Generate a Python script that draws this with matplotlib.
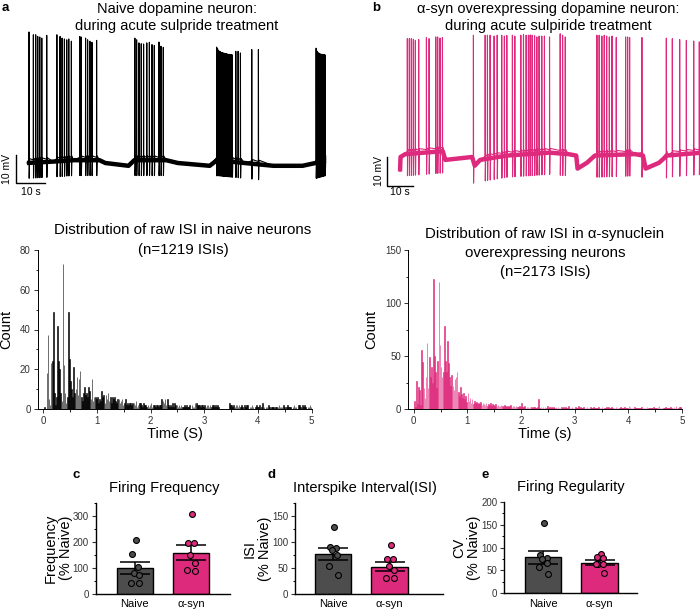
import matplotlib
matplotlib.use('Agg')
import matplotlib.pyplot as plt
import numpy as np
from matplotlib.ticker import MultipleLocator

plt.rcParams['font.family'] = ['Liberation Sans', 'DejaVu Sans']

PINK = '#DE2A7D'
GREY = '#4D4D4D'

# ---- voltage traces (spike times in s, peak in mV rel. to baseline) ----
naive_spike_t = [0.7, 2.2, 3.0, 3.7, 4.4, 5.1, 6.8, 10.3, 11.4, 12.1, 12.9, 13.7, 14.4, 15.3,
                 18.2, 18.7, 20.2, 20.9, 21.7, 22.4, 24.0,
                 37.2, 37.8, 38.6, 39.4, 40.2, 41.3, 42.2, 43.1, 43.9, 45.5, 46.2, 47.0,
                 65.4, 65.7, 66.0, 66.25, 66.55, 66.8, 67.1, 67.4, 67.7, 68.0, 68.3, 68.55,
                 68.85, 69.2, 69.5, 69.8, 70.1, 70.45, 70.8,
                 72.0, 72.8, 73.6, 77.5, 79.8,
                 99.7, 99.95, 100.2, 100.5, 100.75, 101.0, 101.3, 101.6, 101.9, 102.2, 102.5, 102.8]
naive_spike_v = [46.8, 45.8, 45.8, 45.2, 45.0, 44.6, 45.6, 45.8, 45.2, 44.6, 44.3, 44.0, 44.3, 43.5,
                 45.2, 45.0, 44.6, 44.0, 43.5, 43.1, 43.8,
                 44.6, 44.0, 42.9, 42.6, 42.5, 42.9, 43.1, 42.3, 42.0, 43.2, 41.7, 41.3,
                 41.4, 40.8, 40.3, 40.0, 39.8, 39.6, 39.5, 39.4, 39.3, 39.2, 39.1, 39.0,
                 39.0, 38.9, 38.8, 38.8, 38.7, 38.7, 38.6,
                 39.9, 39.9, 39.3, 40.5, 40.5,
                 41.0, 40.0, 39.6, 39.3, 39.2, 39.0, 38.9, 38.8, 38.8, 38.7, 38.7, 38.6]
naive_base_t = [0, 9, 16, 25, 27, 35, 37, 48, 52, 63, 65.5, 75, 85, 95, 99.5, 103]
naive_base_v = [0, 0.5, 1, 1, 0, -1, 1, 1, 0, -1, 1, 0, -1, -1, 0, 1]

syn_spike_t = [2.75, 3.5, 4.25, 5.0, 5.75, 7.0, 9.9, 10.9, 13.4, 14.1, 15.0, 15.9, 27.5,
               31.9, 32.75, 33.75, 35.25, 36.4, 38.1, 39.1, 40.0, 42.1, 43.0, 45.25, 46.25,
               47.25, 48.1, 48.75, 49.5, 50.4, 51.25, 52.1, 53.1, 54.1, 56.0, 60.0, 60.9, 61.9,
               73.75, 74.6, 75.6, 76.5, 77.4, 78.4, 79.4, 81.0, 84.5, 85.25, 86.0, 90.6,
               99.75, 102.0, 104.75, 107.25, 110.0, 112.1]
syn_spike_v = [40.8, 40.8, 40.8, 40.6, 40.2, 40.5, 41.2, 40.8, 41.4, 41.4, 41.0, 41.2, 42.0,
               42.0, 42.0, 42.0, 41.7, 42.0, 42.0, 41.7, 41.9, 42.0, 41.7, 42.0, 42.2,
               42.0, 42.0, 42.1, 42.0, 41.8, 41.4, 41.7, 41.7, 41.7, 41.4, 42.5, 42.0, 41.4,
               42.0, 42.0, 41.7, 42.0, 41.7, 41.4, 41.7, 41.2, 41.4, 41.4, 41.2, 41.2,
               41.0, 40.8, 40.5, 40.2, 40.0, 39.7]
syn_base_t = [0, 0.2, 2, 16, 17, 27, 28, 30, 40, 56, 63, 66, 66.5, 70, 73, 88, 91, 92, 97, 100, 113]
syn_base_v = [-5, 0, 1, 2, -1, 0, -3, -1, 0.5, 1.5, 1, 0.5, -4, -2, 0.5, 1, 0.5, -4, -2, 0.5, 1.5]

# ---- ISI histograms, 0.02 s bins from 0 to 5 s ----
bin_w = 0.02
naive_counts = [
    0, 1, 0, 18, 37, 5, 2, 23, 24, 49,
    8, 2, 6, 42, 24, 20, 8, 4, 73, 22,
    8, 3, 6, 49, 25, 14, 10, 6, 21, 8,
    10, 16, 7, 15, 19, 6, 4, 8, 11, 7,
    8, 6, 11, 9, 5, 15, 4, 6, 6, 5,
    6, 3, 5, 4, 9, 6, 7, 3, 7, 5,
    8, 4, 6, 3, 6, 5, 6, 4, 3, 5,
    5, 3, 4, 5, 2, 3, 5, 2, 3, 2,
    3, 3, 2, 3, 3, 2, 4, 1, 2, 3,
    3, 2, 1, 3, 2, 2, 1, 2, 1, 2,
    3, 1, 2, 2, 1, 2, 2, 1, 2, 2,
    5, 4, 3, 5, 2, 5, 2, 1, 2, 1,
    3, 1, 3, 2, 2, 1, 2, 1, 2, 1,
    1, 2, 1, 2, 1, 1, 2, 0, 2, 1,
    1, 3, 3, 2, 2, 2, 1, 2, 2, 1,
    2, 1, 2, 2, 1, 2, 1, 2, 2, 1,
    2, 1, 2, 1, 0, 0, 0, 0, 0, 0,
    0, 0, 0, 3, 2, 2, 1, 2, 1, 2,
    2, 1, 2, 1, 2, 1, 0, 2, 1, 2,
    2, 0, 1, 1, 2, 1, 0, 1, 2, 1,
    1, 2, 0, 1, 3, 1, 0, 1, 1, 2,
    1, 0, 1, 1, 1, 0, 1, 1, 1, 2,
    1, 1, 1, 2, 1, 0, 1, 2, 1, 1,
    1, 0, 1, 2, 1, 1, 0, 2, 2, 1,
    0, 2, 1, 2, 1, 0, 1, 1, 2, 1]
syn_counts = [
    8, 2, 26, 5, 21, 18, 4, 56, 44, 20,
    10, 30, 62, 20, 49, 30, 40, 25, 123, 50,
    35, 20, 45, 120, 60, 40, 30, 35, 78, 45,
    35, 64, 43, 30, 22, 32, 22, 18, 28, 30,
    35, 16, 12, 21, 14, 10, 15, 9, 12, 7,
    15, 8, 10, 6, 9, 5, 8, 6, 7, 5,
    6, 5, 7, 4, 6, 5, 4, 6, 3, 5,
    4, 6, 3, 5, 4, 3, 5, 3, 4, 3,
    3, 4, 3, 2, 4, 3, 2, 3, 2, 3,
    4, 2, 3, 3, 2, 3, 2, 2, 3, 2,
    6, 2, 2, 3, 1, 2, 2, 1, 2, 2,
    1, 2, 2, 1, 1, 2, 9, 1, 2, 1,
    2, 1, 2, 1, 3, 1, 2, 1, 2, 1,
    2, 1, 2, 1, 2, 1, 1, 2, 1, 2,
    1, 2, 1, 1, 3, 1, 1, 2, 1, 1,
    2, 1, 1, 3, 1, 2, 1, 1, 2, 1,
    1, 2, 1, 1, 2, 1, 1, 2, 1, 1,
    1, 1, 2, 1, 1, 2, 1, 1, 1, 2,
    1, 2, 1, 1, 2, 1, 1, 1, 2, 1,
    1, 1, 2, 1, 1, 1, 2, 1, 1, 1,
    3, 2, 1, 1, 1, 2, 1, 1, 1, 1,
    1, 1, 2, 1, 1, 1, 1, 2, 1, 1,
    1, 1, 1, 2, 1, 1, 1, 2, 3, 1,
    1, 1, 1, 1, 2, 1, 1, 1, 1, 2,
    1, 1, 2, 1, 3, 1, 1, 2, 2, 1]

# ---- summary bar charts (% naive) ----
groups = ['Naive', 'α-syn']
freq_mean = [100, 158]
freq_sem = [23, 30]
freq_pts = [[205, 153, 104, 80, 72, 40, 40], [307, 194, 194, 147, 118, 90, 88]]
isi_mean = [77, 52]
isi_sem = [11, 9]
isi_pts = [[130, 91, 88, 84, 75, 53, 37], [95, 67, 67, 53, 46, 30, 30]]
cv_mean = [79, 67]
cv_sem = [14, 5]
cv_pts = [[154, 84, 77, 75, 66, 58, 42], [85, 79, 77, 64, 64, 64, 44]]
jitter = [0.02, -0.05, 0.06, -0.02, 0.07, -0.07, 0.08]

W, H = 700, 609


def box(x0, y0, x1, y1):
    return [x0 / W, 1 - y1 / H, (x1 - x0) / W, (y1 - y0) / H]


def ftext(x, y, s, **kw):
    fig.text(x / W, 1 - y / H, s, **kw)


def base_at(t, bt, bv):
    return float(np.interp(t, bt, bv))


def build_trace(st, sv, bt, bv, trough):
    pts = [(t, v) for t, v in zip(bt, bv)]
    for s, p in zip(st, sv):
        b = base_at(s, bt, bv)
        pts += [(s - 0.03, b + 1.0), (s, p), (s + 0.05, b + trough),
                (s + 0.2, base_at(s + 0.2, bt, bv) + 1.5)]
    pts.sort()
    return [p[0] for p in pts], [p[1] for p in pts]


def draw_trace(rect, st, sv, bt, bv, trough, color, xlim, ylim):
    ax = fig.add_axes(rect)
    tx, vy = build_trace(st, sv, bt, bv, trough)
    # thick band standing in for the recording noise around the baseline
    ax.plot(bt, bv, color=color, lw=3.2, solid_capstyle='butt')
    ax.plot(tx, vy, color=color, lw=0.8)
    ax.set_xlim(*xlim)
    ax.set_ylim(*ylim)
    ax.axis('off')
    return ax


fig = plt.figure(figsize=(7, 6.09), dpi=100)

# ---------- a: naive trace ----------
ax = draw_trace(box(10, 25, 330, 195), naive_spike_t, naive_spike_v, naive_base_t, naive_base_v,
                -5.5, 'black', ((10 - 27) / 2.9, (330 - 27) / 2.9),
                (-(195 - 163) / 2.8, (163 - 25) / 2.8))
sx, sy = (16 - 27) / 2.9, (163 - 183) / 2.8
ax.plot([sx, sx, sx + 10], [sy + 10, sy, sy], color='black', lw=1, clip_on=False)
ftext(7, 169, '10 mV', rotation=90, ha='center', va='center', fontsize=7.5)
ftext(31, 192, '10 s', ha='center', va='center', fontsize=7.5)

# ---------- b: a-syn trace ----------
ax = draw_trace(box(380, 25, 700, 195), syn_spike_t, syn_spike_v, syn_base_t, syn_base_v,
                -7.5, PINK, ((380 - 400) / 2.67, (700 - 400) / 2.67),
                (-(195 - 157) / 2.9, (157 - 25) / 2.9))
sx, sy = (386.7 - 400) / 2.67, -10
ax.plot([sx, sx, sx + 10], [sy + 10, sy, sy], color='black', lw=1, clip_on=False)
ftext(379, 171, '10 mV', rotation=90, ha='center', va='center', fontsize=7.5)
ftext(400, 192, '10 s', ha='center', va='center', fontsize=7.5)

ftext(2, 8, 'a', fontsize=9.5, fontweight='bold', ha='left', va='center')
ftext(372, 8, 'b', fontsize=9.5, fontweight='bold', ha='left', va='center')
ftext(177, 9, 'Naive dopamine neuron:', fontsize=10.5, ha='center', va='center')
ftext(177, 26, 'during acute sulpride treatment', fontsize=10.5, ha='center', va='center')
ftext(548, 9, 'α-syn overexpressing dopamine neuron:', fontsize=10.5, ha='center', va='center')
ftext(548, 26, 'during acute sulpiride treatment', fontsize=10.5, ha='center', va='center')


# ---------- histograms ----------
def hist_axes(rect, counts, color, ymax, ystep, xlabel):
    ax = fig.add_axes(rect)
    left = np.arange(len(counts)) * bin_w
    ax.bar(left + bin_w / 2, counts, width=bin_w * 0.6, color=color, edgecolor=color, lw=0.4)
    ax.set_xlim(-0.1, 5.0)
    ax.set_ylim(0, ymax)
    ax.xaxis.set_major_locator(MultipleLocator(1))
    ax.xaxis.set_minor_locator(MultipleLocator(0.5))
    ax.yaxis.set_major_locator(MultipleLocator(ystep))
    ax.yaxis.set_minor_locator(MultipleLocator(ystep / 2))
    for s in ['top', 'right']:
        ax.spines[s].set_visible(False)
    for s in ['left', 'bottom']:
        ax.spines[s].set_linewidth(0.7)
    ax.tick_params(which='major', length=3, width=0.7, labelsize=7, pad=2, colors='#333333')
    ax.tick_params(which='minor', length=1.8, width=0.6)
    ax.set_xlabel(xlabel, fontsize=10.5, labelpad=1)
    ax.set_ylabel('Count', fontsize=10.5, labelpad=5)
    return ax


hist_axes(box(37.7, 250, 311.7, 409), naive_counts, 'black', 80, 20, 'Time (S)')
hist_axes(box(408.3, 250, 682, 409), syn_counts, PINK, 150, 50, 'Time (s)')
ftext(183, 230, 'Distribution of raw ISI in naive neurons', fontsize=10.8, ha='center', va='center')
ftext(183, 250, '(n=1219 ISIs)', fontsize=10.8, ha='center', va='center')
ftext(545, 234, 'Distribution of raw ISI in α-synuclein', fontsize=10.8, ha='center', va='center')
ftext(545, 253, 'overexpressing neurons', fontsize=10.8, ha='center', va='center')
ftext(545, 272, '(n=2173 ISIs)', fontsize=10.8, ha='center', va='center')


# ---------- summary bars ----------
def bar_axes(rect, means, sems, pts, xlim, ymax, ystep, ylabel):
    ax = fig.add_axes(rect)
    x = np.arange(len(groups))
    ax.bar(x, means, width=0.65, color=[GREY, PINK], edgecolor='black', lw=1.0, zorder=2)
    ax.errorbar(x, means, yerr=sems, fmt='none', ecolor='black', elinewidth=1.1,
                capsize=11, capthick=1.1, zorder=3)
    for i, vals in enumerate(pts):
        ax.scatter(x[i] + np.array(jitter[:len(vals)]), vals, s=18,
                   color=[GREY, PINK][i], edgecolor='black', lw=0.8, zorder=4, clip_on=False)
    ax.set_xlim(*xlim)
    ax.set_ylim(0, ymax)
    ax.set_xticks(x)
    ax.set_xticklabels(groups, fontsize=8)
    ax.yaxis.set_major_locator(MultipleLocator(ystep))
    ax.yaxis.set_minor_locator(MultipleLocator(ystep / 2))
    for s in ['top', 'right']:
        ax.spines[s].set_visible(False)
    for s in ['left', 'bottom']:
        ax.spines[s].set_linewidth(1.0)
    ax.tick_params(axis='x', length=0, pad=4)
    ax.tick_params(axis='y', which='major', length=3, width=0.8, labelsize=7, pad=2, colors='#333333')
    ax.tick_params(axis='y', which='minor', length=1.8, width=0.7)
    ax.set_ylabel(ylabel, fontsize=10.5, labelpad=0, linespacing=1.1)
    return ax


bar_axes(box(95.7, 502.7, 230, 593.7), freq_mean, freq_sem, freq_pts, (-0.70, 1.70), 350, 100,
         'Frequency\n(% Naive)')
bar_axes(box(295, 503.3, 443, 593.7), isi_mean, isi_sem, isi_pts, (-0.67, 1.94), 175, 50,
         'ISI\n(% Naive)')
bar_axes(box(504.3, 502, 636.7, 593.3), cv_mean, cv_sem, cv_pts, (-0.69, 1.66), 200, 50,
         'CV\n(% Naive)')

ftext(76, 475, 'c', fontsize=9.5, fontweight='bold', ha='center', va='center')
ftext(272, 475, 'd', fontsize=9.5, fontweight='bold', ha='center', va='center')
ftext(485, 475, 'e', fontsize=9.5, fontweight='bold', ha='center', va='center')
ftext(164, 488, 'Firing Frequency', fontsize=10.5, ha='center', va='center')
ftext(365, 488, 'Interspike Interval(ISI)', fontsize=10.5, ha='center', va='center')
ftext(571, 487, 'Firing Regularity', fontsize=10.5, ha='center', va='center')

fig.savefig('out.png', dpi=100)
